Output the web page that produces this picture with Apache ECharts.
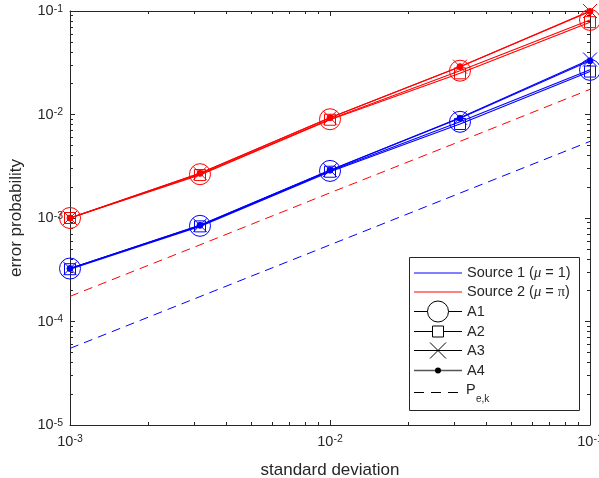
<!DOCTYPE html>
<html>
<head>
<meta charset="utf-8">
<script src="https://cdn.jsdelivr.net/npm/echarts@6/dist/echarts.min.js"></script>
<style>
  html, body { margin: 0; padding: 0; background: #fff; }
  #chart { width: 599px; height: 478px; }
</style>
</head>
<body>
<div id="chart"></div>
<script>
// Standard deviations at which the error probabilities were evaluated
const sigma = [1e-3, 3.162e-3, 1e-2, 3.162e-2, 1e-1];

// Source 1 (mu = 1)
const s1A1 = [3.25e-4, 8.4e-4, 2.85e-3, 8.5e-3, 2.7e-2];
const s1A2 = [3.2e-4, 8.3e-4, 2.8e-3, 8.1e-3, 2.6e-2];
const s1A3 = [3.25e-4, 8.5e-4, 2.9e-3, 9.3e-3, 3.4e-2];
const s1A4 = [3.25e-4, 8.5e-4, 2.9e-3, 9.2e-3, 3.3e-2];
const s1Pek = [5.5e-5, 1.74e-4, 5.5e-4, 1.74e-3, 5.5e-3];

// Source 2 (mu = pi)
const s2A1 = [1.0e-3, 2.65e-3, 9.0e-3, 2.65e-2, 8.2e-2];
const s2A2 = [1.0e-3, 2.6e-3, 8.9e-3, 2.5e-2, 7.8e-2];
const s2A3 = [1.0e-3, 2.7e-3, 9.3e-3, 2.9e-2, 1.0e-1];
const s2A4 = [1.0e-3, 2.7e-3, 9.3e-3, 2.9e-2, 9.9e-2];
const s2Pek = [1.75e-4, 5.5e-4, 1.75e-3, 5.5e-3, 1.75e-2];

// Axis ranges
const xRange = [1e-3, 1e-1];
const yRange = [1e-5, 1e-1];

const BLUE = '#0000ff';
const RED = '#ff0000';
const INK = '#262626';
const FONT = '"Liberation Sans", Arial, Helvetica, sans-serif';
const SERIF = '"Liberation Serif", "DejaVu Serif", serif';
const CROSS = 'path://M0,0L10,10M10,0L0,10';

function pairs(ys) { return sigma.map((x, i) => [x, ys[i]]); }

const marker = {
  A1: { symbol: 'circle', size: 21 },
  A2: { symbol: 'rect', size: 11 },
  A3: { symbol: CROSS, size: 14 },
  A4: { symbol: 'circle', size: 6, filled: true }
};

function curve(name, ys, color, kind) {
  const m = marker[kind];
  return {
    name: name,
    type: 'line',
    data: pairs(ys),
    symbol: m.symbol,
    symbolSize: m.size,
    showSymbol: true,
    clip: false,
    animation: false,
    lineStyle: { color: color, width: 1.1 },
    itemStyle: {
      color: m.filled ? color : 'rgba(0,0,0,0)',
      borderColor: color,
      borderWidth: 1
    },
    emphasis: { disabled: true },
    z: 3
  };
}

function dashed(name, ys, color) {
  return {
    name: name,
    type: 'line',
    data: pairs(ys),
    showSymbol: false,
    symbol: 'none',
    animation: false,
    lineStyle: { color: color, width: 1, type: [9, 6] },
    emphasis: { disabled: true },
    z: 2
  };
}

function powLabel(v) {
  const e = Math.round(Math.log10(v));
  return '{b|10}{s|' + e + '}';
}

// "10" sits low, the exponent high; the pair is centred on the tick
const labelRich = {
  b: { fontSize: 14.5, fontFamily: FONT, color: INK, lineHeight: 15, verticalAlign: 'bottom' },
  s: { fontSize: 10.5, fontFamily: FONT, color: INK, lineHeight: 11, verticalAlign: 'top', padding: [0, 0, 12, 0] }
};

function logAxis(range, pos, showLabel) {
  return {
    type: 'log',
    logBase: 10,
    min: range[0],
    max: range[1],
    position: pos,
    axisLine: { show: true, onZero: false, lineStyle: { color: INK, width: 1 } },
    axisTick: { show: true, inside: true, length: 5, lineStyle: { color: INK } },
    minorTick: { show: true, splitNumber: 9, length: 3, lineStyle: { color: INK } },
    splitLine: { show: false },
    minorSplitLine: { show: false },
    axisLabel: {
      show: showLabel,
      formatter: powLabel,
      rich: labelRich,
      margin: 7,
      hideOverlap: false
    }
  };
}

const xBottom = logAxis(xRange, 'bottom', true);
xBottom.name = 'standard deviation';
xBottom.nameLocation = 'middle';
xBottom.nameGap = 33;
xBottom.nameTextStyle = { fontSize: 17, fontFamily: FONT, color: INK };
xBottom.axisLabel.margin = 9;

const yLeft = logAxis(yRange, 'left', true);
yLeft.name = 'error probability';
yLeft.nameLocation = 'middle';
yLeft.nameGap = 45;
yLeft.nameTextStyle = { fontSize: 17, fontFamily: FONT, color: INK };

const chart = echarts.init(document.getElementById('chart'), null, { renderer: 'canvas' });

// Legend drawn as a framed key in the lower-right corner of the plot
const rowY = [16, 35, 54, 74, 93, 113, 135];
const keyText = { font: '14.5px ' + FONT, fill: INK, verticalAlign: 'middle', align: 'left' };
function keyLine(y, color, w, dash) {
  return { type: 'line', shape: { x1: 5, y1: y, x2: 53, y2: y },
    style: { stroke: color, lineWidth: w || 1, lineDash: dash || null }, silent: true };
}
const legendGroup = {
  type: 'group',
  left: 409,
  top: 257,
  children: [
    { type: 'rect', shape: { x: 0.5, y: 0.5, width: 170, height: 153 },
      style: { fill: '#fff', stroke: INK, lineWidth: 1 }, silent: true },
    keyLine(rowY[0], BLUE, 1),
    { type: 'text', x: 58, y: rowY[0], style: Object.assign({}, keyText, {
      text: 'Source 1 ({m|μ} = 1)',
      rich: { m: { fontFamily: SERIF, fontStyle: 'italic', fontSize: 14.5, fill: INK } } }) },
    keyLine(rowY[1], RED, 1),
    { type: 'text', x: 58, y: rowY[1], style: Object.assign({}, keyText, {
      text: 'Source 2 ({m|μ} = {p|π})',
      rich: {
        m: { fontFamily: SERIF, fontStyle: 'italic', fontSize: 14.5, fill: INK },
        p: { fontFamily: SERIF, fontSize: 14.5, fill: INK } } }) },
    keyLine(rowY[2] + 0.5, '#000', 1),
    { type: 'circle', shape: { cx: 29, cy: rowY[2] + 0.5, r: 10.5 }, style: { fill: '#fff', stroke: '#000', lineWidth: 1 } },
    { type: 'text', x: 58, y: rowY[2] + 0.5, style: Object.assign({}, keyText, { text: 'A1' }) },
    keyLine(rowY[3] + 0.5, '#000', 1),
    { type: 'rect', shape: { x: 23.5, y: rowY[3] - 5, width: 11, height: 11 }, style: { fill: '#fff', stroke: '#000', lineWidth: 1 } },
    { type: 'text', x: 58, y: rowY[3] + 0.5, style: Object.assign({}, keyText, { text: 'A2' }) },
    keyLine(rowY[4] + 0.5, '#000', 1),
    { type: 'polyline', shape: { points: [[21, rowY[4] - 7.5], [37, rowY[4] + 8.5]] }, style: { stroke: '#000', lineWidth: 1, fill: null } },
    { type: 'polyline', shape: { points: [[37, rowY[4] - 7.5], [21, rowY[4] + 8.5]] }, style: { stroke: '#000', lineWidth: 1, fill: null } },
    { type: 'text', x: 58, y: rowY[4] + 0.5, style: Object.assign({}, keyText, { text: 'A3' }) },
    keyLine(rowY[5] + 0.5, '#555', 1.5),
    { type: 'circle', shape: { cx: 29, cy: rowY[5] + 0.5, r: 3 }, style: { fill: '#000' } },
    { type: 'text', x: 58, y: rowY[5] + 0.5, style: Object.assign({}, keyText, { text: 'A4' }) },
    keyLine(rowY[6] + 0.5, '#000', 1, [10, 7]),
    { type: 'text', x: 57, y: rowY[6] - 2, style: Object.assign({}, keyText, { text: 'P' }) },
    { type: 'text', x: 67, y: rowY[6] + 7, style: Object.assign({}, keyText, { text: 'e,k', font: '10px ' + FONT }) }
  ]
};

chart.setOption({
  backgroundColor: '#ffffff',
  animation: false,
  textStyle: { fontFamily: FONT },
  grid: { left: 70, right: 9, top: 11, bottom: 53, containLabel: false, outerBoundsMode: 'none' },
  xAxis: [xBottom, logAxis(xRange, 'top', false)],
  yAxis: [yLeft, logAxis(yRange, 'right', false)],
  series: [
    dashed('Source 1 Pe,k', s1Pek, BLUE),
    dashed('Source 2 Pe,k', s2Pek, RED),
    curve('Source 1 A1', s1A1, BLUE, 'A1'),
    curve('Source 1 A2', s1A2, BLUE, 'A2'),
    curve('Source 1 A3', s1A3, BLUE, 'A3'),
    curve('Source 1 A4', s1A4, BLUE, 'A4'),
    curve('Source 2 A1', s2A1, RED, 'A1'),
    curve('Source 2 A2', s2A2, RED, 'A2'),
    curve('Source 2 A3', s2A3, RED, 'A3'),
    curve('Source 2 A4', s2A4, RED, 'A4')
  ],
  graphic: [legendGroup]
});
</script>
</body>
</html>
